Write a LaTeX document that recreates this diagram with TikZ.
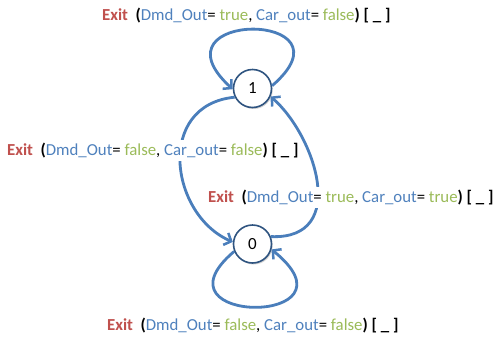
\documentclass[tikz,border=0pt]{standalone}
\usepackage{fontspec}
\setmainfont{Carlito}
\usetikzlibrary{arrows.meta,shadows}
\definecolor{exitred}{HTML}{C0504D}
\definecolor{varblue}{HTML}{4F81BD}
\definecolor{valgreen}{HTML}{9BBB59}
\definecolor{edgeblue}{HTML}{4A7EBB}
\definecolor{ringblue}{HTML}{2F5480}
\newcommand{\trlabel}[2]{\textcolor{exitred}{\bfseries Exit}\ \ {\bfseries(}\textcolor{varblue}{Dmd\_Out}= \textcolor{valgreen}{#1}, \textcolor{varblue}{Car\_out}= \textcolor{valgreen}{#2}{\bfseries) [ \_ ]}}
\tikzset{
  state/.style={circle, draw=ringblue, line width=1.6pt, fill=white, minimum size=38pt, inner sep=0pt, font=\fontsize{17}{19}\selectfont, drop shadow={shadow xshift=1.2pt, shadow yshift=-1.5pt, opacity=0.35}},
  trans/.style={draw=edgeblue, line width=2.8pt, -{Straight Barb[length=6pt,width=13pt,line width=2.5pt]}},
  lbl/.style={anchor=base west, fill=white, inner xsep=0pt, inner ysep=3pt, font=\fontsize{16.8}{19}\selectfont}
}
\begin{document}
\begin{tikzpicture}[x=1pt,y=-1pt]
\useasboundingbox (0,0) rectangle (498,338);
\node[state] (n1) at (252.5,88.5) {1};
\node[state] (n0) at (252.5,244) {0};
\draw[trans] (n1.8) .. controls (360,10) and (146,10) .. (n1.182);
\draw[trans] (n0.202) .. controls (146,326) and (366,326) .. (n0.344);
\draw[trans] (n1.206) .. controls (155,105) and (170,215) .. (n0.174);
\draw[trans] (n0.22) .. controls (350,240) and (315,135) .. (n1.336);
\node[lbl] (ltop) at (102,20.5) {\trlabel{true}{false}};
\node[lbl] (lleft) at (7,155.7) {\trlabel{false}{false}};
\node[lbl] (lmid) at (208,202) {\trlabel{true}{true}};
\node[lbl] (lbot) at (107,330.7) {\trlabel{false}{false}};
\end{tikzpicture}
\end{document}
